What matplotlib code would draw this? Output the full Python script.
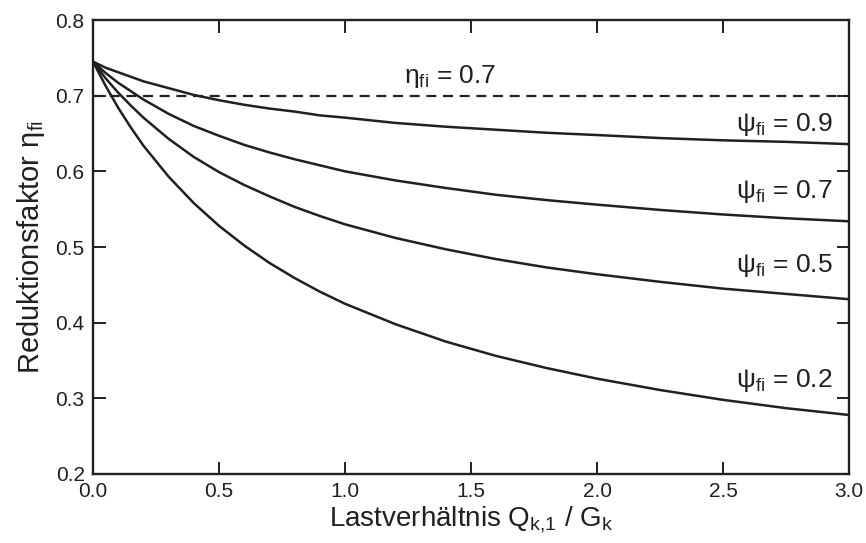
import matplotlib
matplotlib.use("Agg")
import matplotlib.pyplot as plt

plt.rcParams['font.family'] = ['Liberation Sans', 'DejaVu Sans']
plt.rcParams['mathtext.fontset'] = 'custom'
plt.rcParams['mathtext.rm'] = 'Liberation Sans'
plt.rcParams['mathtext.it'] = 'Liberation Sans:italic'

ink = '#231f20'

# Lastverhaeltnis Q/G
ratio = [0, 0.05, 0.1, 0.15, 0.2, 0.3, 0.4, 0.5, 0.6, 0.7, 0.8, 0.9, 1.0,
         1.2, 1.4, 1.6, 1.8, 2.0, 2.25, 2.5, 2.75, 3.0]

# Reduktionsfaktor je psi_fi
eta_psi09 = [0.745, 0.737, 0.731, 0.725, 0.719, 0.710, 0.701, 0.694, 0.688,
             0.683, 0.679, 0.674, 0.671, 0.664, 0.659, 0.655, 0.651, 0.648,
             0.644, 0.641, 0.639, 0.636]
eta_psi07 = [0.745, 0.730, 0.717, 0.706, 0.695, 0.676, 0.660, 0.647, 0.635,
             0.625, 0.616, 0.608, 0.600, 0.588, 0.578, 0.569, 0.562, 0.556,
             0.549, 0.543, 0.538, 0.534]
eta_psi05 = [0.745, 0.723, 0.704, 0.687, 0.671, 0.643, 0.619, 0.599, 0.582,
             0.567, 0.553, 0.541, 0.530, 0.512, 0.497, 0.484, 0.473, 0.464,
             0.454, 0.445, 0.438, 0.431]
eta_psi02 = [0.745, 0.713, 0.684, 0.658, 0.634, 0.593, 0.558, 0.528, 0.502,
             0.479, 0.459, 0.441, 0.425, 0.398, 0.375, 0.356, 0.340, 0.326,
             0.311, 0.298, 0.287, 0.278]

curves = [eta_psi09, eta_psi07, eta_psi05, eta_psi02]
curve_labels = ['0.9', '0.7', '0.5', '0.2']
label_y = [0.662, 0.574, 0.475, 0.323]

eta_limit = 0.7
x_ticks = [0.0, 0.5, 1.0, 1.5, 2.0, 2.5, 3.0]
y_ticks = [0.2, 0.3, 0.4, 0.5, 0.6, 0.7, 0.8]

fig = plt.figure(figsize=(8.66, 5.43), dpi=100)
ax = fig.add_axes([0.1074, 0.1271, 0.873, 0.836])

for vals in curves:
    ax.plot(ratio, vals, color=ink, lw=1.8, solid_joinstyle='round')

ax.plot([ratio[0], ratio[-1]], [eta_limit, eta_limit], color=ink, lw=1.6,
        dashes=(4.5, 3))

for lab, yy in zip(curve_labels, label_y):
    ax.text(2.935, yy, r'ψ$_{\mathrm{fi}}$ = ' + lab, ha='right', va='center',
            fontsize=19, color=ink)
ax.text(1.235, 0.726, r'η$_{\mathrm{fi}}$ = 0.7', ha='left', va='center',
        fontsize=19, color=ink)

ax.set_xlim(0, 3)
ax.set_ylim(0.2, 0.8)
ax.set_xticks(x_ticks)
ax.set_yticks(y_ticks)
ax.set_xticklabels([f'{t:.1f}' for t in x_ticks])
ax.set_yticklabels([f'{t:.1f}' for t in y_ticks])
ax.tick_params(direction='in', length=9, width=1.4, color=ink,
               top=True, right=True, labelsize=15, labelcolor=ink, pad=6)
for sp in ax.spines.values():
    sp.set_linewidth(1.7)
    sp.set_color(ink)

ax.set_xlabel(r'Lastverhältnis Q$_{\mathrm{k{,}1}}$ / G$_{\mathrm{k}}$',
              fontsize=20, color=ink, labelpad=2)
ax.set_ylabel(r'Reduktionsfaktor η$_{\mathrm{fi}}$', fontsize=21, color=ink,
              labelpad=6)

fig.savefig('out.png', dpi=100)
